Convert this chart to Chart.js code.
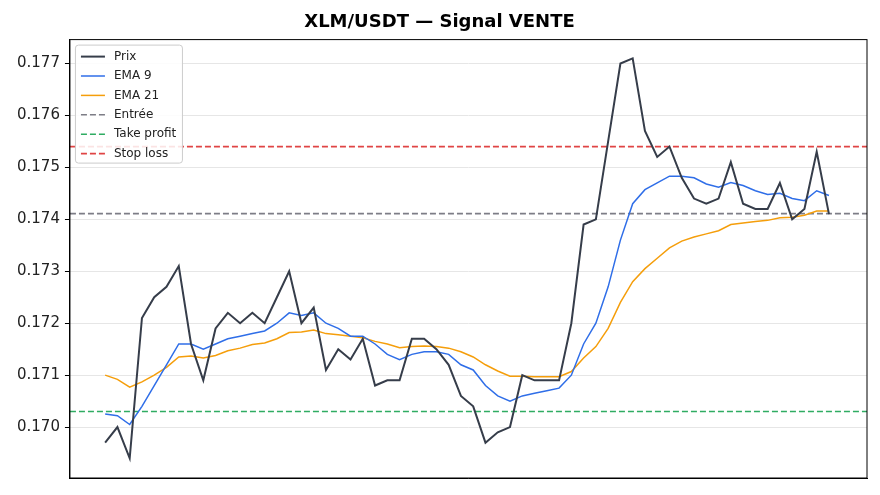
<!DOCTYPE html>
<html><head><meta charset="utf-8">
<script src="https://cdn.jsdelivr.net/npm/chart.js@4"></script>
<style>html,body{margin:0;background:#fff}#wrap{width:880px;height:495px}</style>
</head><body><div id="wrap"><canvas id="c"></canvas></div>
<script>
// prix et moyennes
var prix = [0.1697,0.1700,0.1694,0.1721,0.1725,0.1727,0.1731,0.1716,0.1709,0.1719,0.1722,0.1720,0.1722,0.1720,0.1725,0.1730,0.1720,0.1723,0.1711,0.1715,0.1713,0.1717,0.1708,0.1709,0.1709,0.1717,0.1717,0.1715,0.1712,0.1706,0.1704,0.1697,0.1699,0.1700,0.1710,0.1709,0.1709,0.1709,0.1720,0.1739,0.1740,0.1755,0.1770,0.1771,0.1757,0.1752,0.1754,0.1748,0.1744,0.1743,0.1744,0.1751,0.1743,0.1742,0.1742,0.1747,0.1740,0.1742,0.1753,0.1741];
var ema9 = [0.17025,0.17022,0.17005,0.1704,0.1708,0.1712,0.1716,0.1716,0.1715,0.1716,0.1717,0.17175,0.1718,0.17185,0.1720,0.1722,0.17215,0.1722,0.1720,0.1719,0.17175,0.17175,0.1716,0.1714,0.1713,0.1714,0.17145,0.17145,0.1714,0.1712,0.1711,0.1708,0.1706,0.1705,0.1706,0.17065,0.1707,0.17075,0.1710,0.1716,0.1720,0.1727,0.1736,0.1743,0.17457,0.1747,0.17483,0.17483,0.1748,0.17468,0.17462,0.17471,0.17465,0.17455,0.17448,0.1745,0.1744,0.17436,0.17455,0.17446];
var ema21 = [0.1710,0.17092,0.17077,0.17087,0.1710,0.17115,0.17135,0.17137,0.17133,0.17138,0.17147,0.17152,0.17159,0.17162,0.1717,0.17182,0.17183,0.17187,0.1718,0.17178,0.17175,0.17172,0.17165,0.1716,0.17153,0.17155,0.17156,0.17155,0.17152,0.17145,0.17135,0.1712,0.17108,0.17098,0.17098,0.17097,0.17097,0.17097,0.17107,0.17133,0.17155,0.1719,0.1724,0.1728,0.17305,0.17325,0.17345,0.17358,0.17366,0.17372,0.17378,0.1739,0.17393,0.17396,0.17398,0.17403,0.17404,0.17408,0.17416,0.17416];
var entree = 0.17411, takeProfit = 0.1703, stopLoss = 0.1754;

function pts(arr) { return arr.map(function (v, i) { return { x: i, y: v }; }); }
function hline(v) { return [{ x: -2.87, y: v }, { x: 62.1, y: v }]; }

var sets = [
  { label: 'Prix', data: pts(prix), borderColor: '#363d4a', borderWidth: 2 },
  { label: 'EMA 9', data: pts(ema9), borderColor: '#2f6ee8', borderWidth: 1.5 },
  { label: 'EMA 21', data: pts(ema21), borderColor: '#f59e0b', borderWidth: 1.5 },
  { label: 'Entrée', data: hline(entree), borderColor: '#7d7d86', borderWidth: 1.6, borderDash: [6, 3] },
  { label: 'Take profit', data: hline(takeProfit), borderColor: '#2fac62', borderWidth: 1.6, borderDash: [6, 3] },
  { label: 'Stop loss', data: hline(stopLoss), borderColor: '#e04444', borderWidth: 1.6, borderDash: [6, 3] }
];
sets.forEach(function (d) { d.pointRadius = 0; d.fill = false; d.tension = 0; });

var legendBox = {
  id: 'legendBox',
  afterDatasetsDraw: function (chart) {
    var c = chart.ctx, a = chart.chartArea;
    var x = a.left + 5, y = a.top + 5, w = 107, h = 118;
    c.save();
    c.fillStyle = 'rgba(255,255,255,0.85)';
    c.strokeStyle = '#ccc';
    c.lineWidth = 1;
    c.beginPath(); c.roundRect(x + 0.5, y + 0.5, w, h, 3); c.fill(); c.stroke();
    c.font = '12px "DejaVu Sans"';
    c.textBaseline = 'middle';
    chart.data.datasets.forEach(function (d, i) {
      var ly = y + 12 + i * 19.4;
      c.strokeStyle = d.borderColor;
      c.lineWidth = d.borderWidth;
      c.setLineDash(d.borderDash || []);
      c.beginPath(); c.moveTo(x + 6, ly); c.lineTo(x + 30, ly); c.stroke();
      c.setLineDash([]);
      c.fillStyle = '#222';
      c.fillText(d.label, x + 39, ly);
    });
    c.restore();
  }
};

new Chart(document.getElementById('c'), {
  type: 'line',
  data: { datasets: sets },
  options: {
    responsive: true, maintainAspectRatio: false, animation: false,
    layout: { padding: { left: 12, right: 13, top: 0, bottom: 9 } },
    plugins: {
      legend: { display: false }, tooltip: { enabled: false },
      title: { display: true, text: 'XLM/USDT — Signal VENTE', color: '#000',
        font: { family: 'DejaVu Sans', size: 18, weight: 'bold' }, padding: { top: 12, bottom: 6 } }
    },
    scales: {
      x: { type: 'linear', min: -2.87, max: 62.1,
        ticks: { display: false }, grid: { display: false },
        border: { color: '#000', width: 1 } },
      y: { min: 0.16902, max: 0.17746,
        afterBuildTicks: function (ax) {
          ax.ticks = [0.170,0.171,0.172,0.173,0.174,0.175,0.176,0.177].map(function (v) { return { value: v }; });
        },
        ticks: { color: '#222', font: { family: 'DejaVu Sans', size: 15 }, padding: 5,
          callback: function (v) { return v.toFixed(3); } },
        grid: { color: '#e6e6e6', tickLength: 5, tickColor: '#000' },
        border: { color: '#000', width: 1 } }
    }
  },
  plugins: [legendBox, {
    id: 'frame',
    afterDraw: function (chart) {
      var c = chart.ctx, a = chart.chartArea;
      c.save(); c.strokeStyle = '#000'; c.lineWidth = 1;
      c.strokeRect(a.left, a.top, a.right - a.left, a.bottom - a.top);
      c.restore();
    }
  }]
});
</script></body></html>
